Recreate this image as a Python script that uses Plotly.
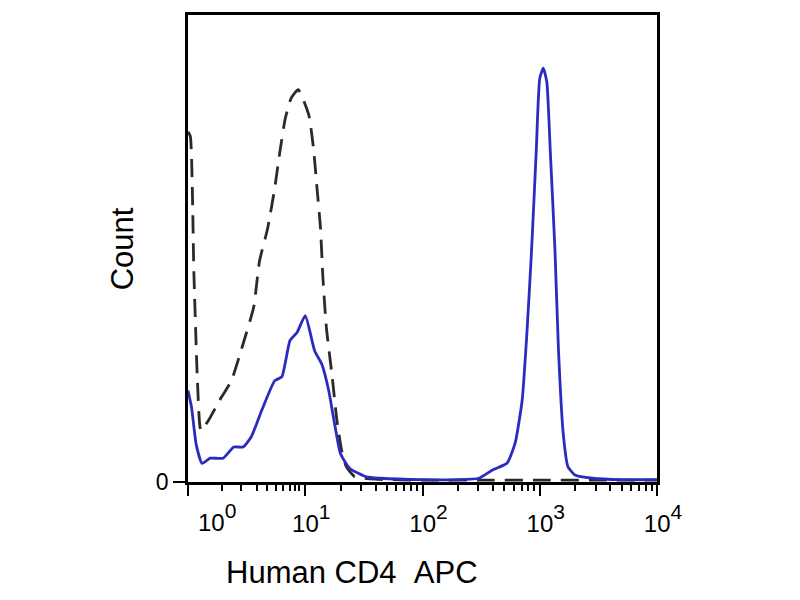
import plotly.graph_objects as go

# x values are histogram channel positions in decades (0 = left edge, 4 = 10^4)
iso_x = [0.0, 0.02, 0.05, 0.08, 0.11, 0.17, 0.27, 0.37, 0.47, 0.56, 0.61, 0.68, 0.74, 0.78, 0.83, 0.88,
         0.94, 1.03, 1.07, 1.10, 1.13, 1.15, 1.18, 1.23, 1.27, 1.31, 1.35, 1.42, 1.6, 2.0, 2.5, 3.0, 3.5, 4.0]
iso_y = [75, 74, 45, 22, 11, 13, 17.5, 21.7, 29.6, 37.4, 47.3, 54.4, 63.0, 70.1, 77.9, 82.2,
         84.0, 78.6, 71.5, 63.0, 54.4, 44, 33.1, 22.5, 13.2, 6.8, 3.3, 1.2, 0.6, 0.4, 0.4, 0.4, 0.4, 0.4]

cd4_x = [0.0, 0.03, 0.07, 0.12, 0.19, 0.30, 0.39, 0.47, 0.54, 0.63, 0.74, 0.80, 0.87, 0.93, 1.00, 1.08,
         1.14, 1.20, 1.25, 1.30, 1.38, 1.52, 1.64, 2.0, 2.3, 2.48, 2.60, 2.72, 2.79, 2.85, 2.89, 2.93,
         2.97, 3.00, 3.03, 3.06, 3.09, 3.13, 3.16, 3.20, 3.24, 3.30, 3.45, 3.7, 4.0]
cd4_y = [19.6, 16, 8, 4.0, 5.1, 5.1, 7.5, 7.5, 9.7, 15.4, 21.7, 22.5, 30.3, 32.0, 35.6, 28.1,
         25.3, 19.6, 12.5, 6.1, 2.9, 1.1, 0.8, 0.5, 0.5, 0.8, 2.6, 4.0, 8.3, 17.5, 31.7, 49.5,
         70.8, 86.4, 88.6, 85.7, 70.8, 49.5, 28.1, 10.4, 3.3, 1.5, 0.8, 0.5, 0.5]

decade_pos = [0, 1, 2, 3, 4]
decade_exp = ["", "1", "2", "3", "4"]
minor_pos = [0.29, 0.45, 0.59, 0.67, 0.75, 0.81, 0.87, 0.91, 0.95]
for d in [1, 2, 3]:
    for k in [0.301, 0.477, 0.602, 0.699, 0.778, 0.845, 0.903, 0.954]:
        minor_pos.append(d + k)


def dec_label(e):
    if e == "":
        return ""
    # big superscript like the FlowJo export
    return "<span style='font-size:24px'>10</span><sup>" + e + "</sup>"


font = "Arial, Liberation Sans, sans-serif"

fig = go.Figure()
fig.add_trace(go.Scatter(x=iso_x, y=iso_y, mode="lines",
                         line=dict(color="#2a2a2a", width=2.8, dash="18px,10px", shape="spline", smoothing=0.5)))
fig.add_trace(go.Scatter(x=cd4_x, y=cd4_y, mode="lines",
                         line=dict(color="#2b2bc0", width=2.8, shape="spline", smoothing=0.5)))

fig.update_layout(
    width=800, height=600,
    margin=dict(l=188, r=143, t=13, b=118),
    plot_bgcolor="white", paper_bgcolor="white",
    showlegend=False,
    font=dict(family=font, color="black"),
    xaxis=dict(range=[0, 4], showgrid=False, zeroline=False, showline=True, mirror=True,
               linecolor="black", linewidth=2.5,
               tickmode="array", tickvals=decade_pos, ticktext=[dec_label(e) for e in decade_exp],
               ticks="outside", ticklen=11, tickwidth=2, tickcolor="black",
               tickfont=dict(size=30), ticklabelshift=6, ticklabelstandoff=0,
               minor=dict(tickmode="array", tickvals=minor_pos, ticks="outside",
                          ticklen=6, tickwidth=2, tickcolor="black")),
    yaxis=dict(range=[0, 100], showgrid=False, zeroline=False, showline=True, mirror=True,
               linecolor="black", linewidth=2.5,
               tickmode="array", tickvals=[0], ticktext=["0"],
               ticks="outside", ticklen=12, tickwidth=2, tickcolor="black",
               tickfont=dict(size=23)),
    annotations=[
        dict(text=dec_label("0"), x=0.25, xref="x", y=-0.032, yref="paper",
             xanchor="center", yanchor="top", showarrow=False, font=dict(size=30)),
        dict(text="Human CD4\u00a0\u00a0APC", x=0.35, xref="paper", y=-0.194, yref="paper",
             xanchor="center", yanchor="middle", showarrow=False, font=dict(size=31)),
        dict(text="Count", x=-0.139, xref="paper", y=0.5, yref="paper", textangle=-90,
             xanchor="center", yanchor="middle", showarrow=False, font=dict(size=31)),
    ],
)

fig.write_html("out.html", config={"displayModeBar": False},
               post_script="document.body.style.margin='0';")
